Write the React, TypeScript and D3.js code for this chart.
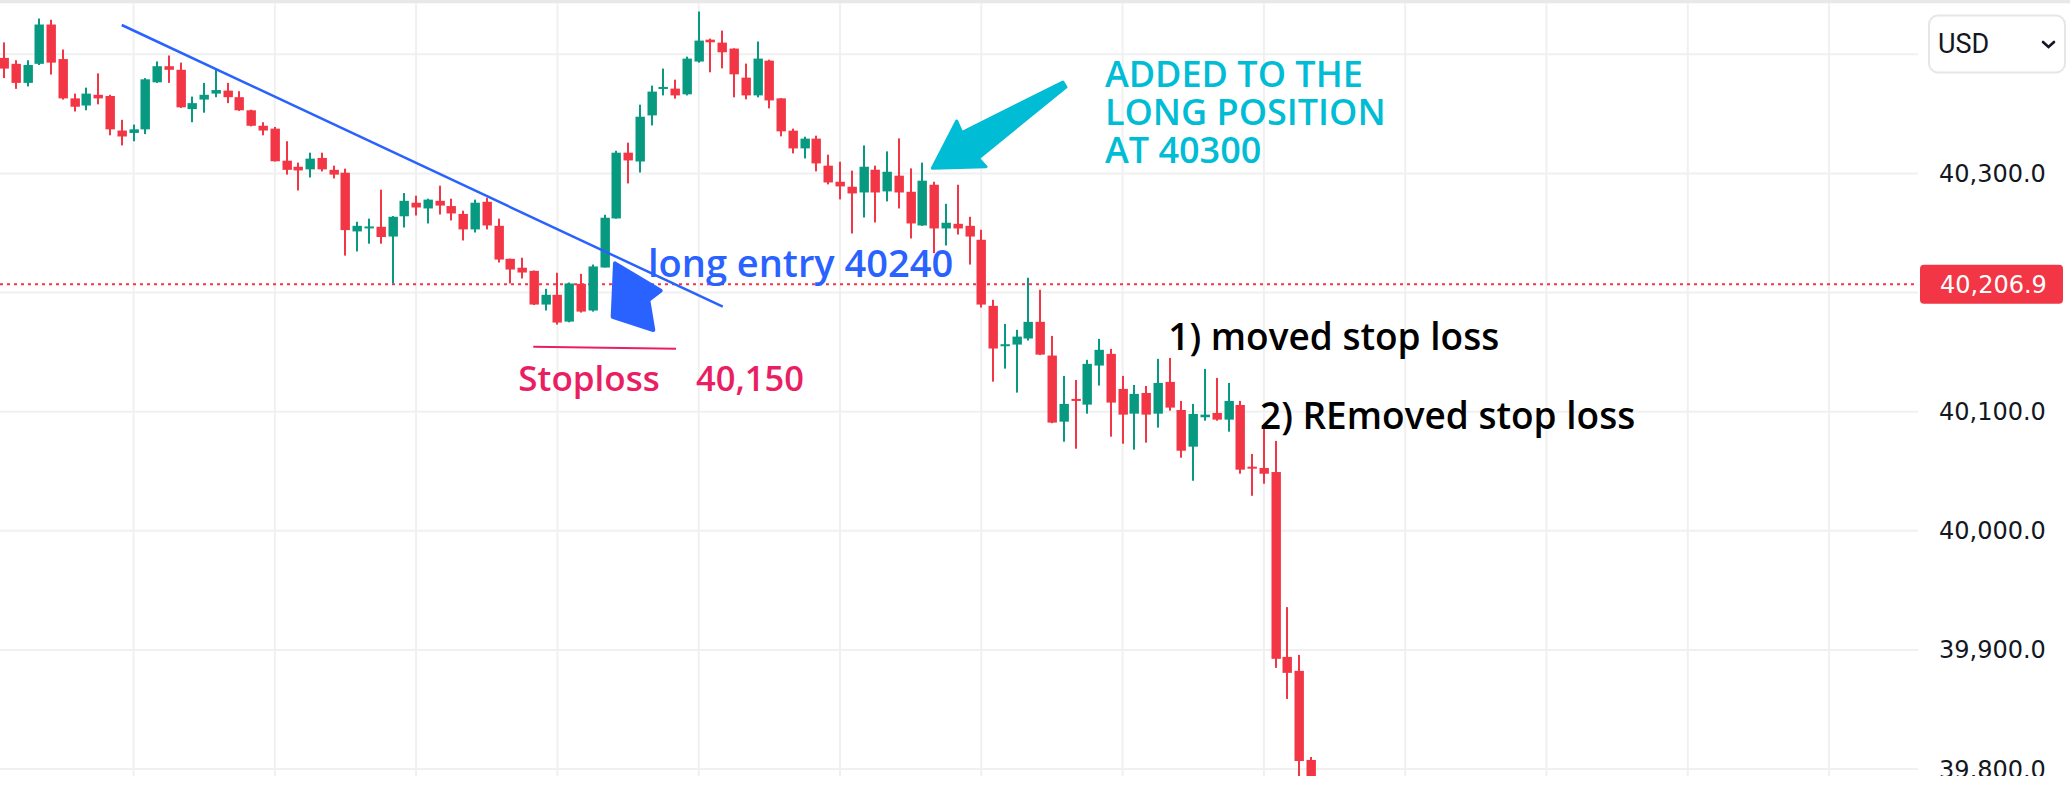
import React from 'react';
import * as d3 from 'd3';

// ---- candle data (5-minute bars) ----
const opens = [
  40397, 40392, 40376, 40392, 40425, 40396, 40363, 40357, 40366, 40365,
  40336, 40334, 40337, 40376.5, 40390, 40387, 40354, 40362, 40367, 40369.5,
  40364, 40353, 40340, 40337.6, 40310.7, 40305.6, 40303.4, 40313, 40303, 40300.6,
  40251.3, 40254.6, 40255.2, 40247, 40264, 40275.4, 40270.6, 40277, 40272.6, 40266,
  40253, 40276.2, 40256, 40228.3, 40220.8, 40218.2, 40189.9, 40198.1, 40175.6, 40207.3,
  40184.9, 40221, 40262.2, 40317.4, 40310, 40348.7, 40370.9, 40371.2, 40366.4, 40393.9,
  40412.3, 40409.8, 40404.8, 40380.4, 40365.5, 40394.7, 40363, 40335.9, 40321, 40329.2,
  40306.5, 40293, 40288.8, 40284, 40303.1, 40284.9, 40298.1, 40284.6, 40256.3, 40290.5,
  40253.8, 40257.7, 40256, 40244.3, 40188.8, 40155.5, 40156.3, 40161.4, 40175.4, 40147.1,
  40091.6, 40110.7, 40105.9, 40138.7, 40148.5, 40119.1, 40098.3, 40115.7, 40098.3, 40125,
  40101.4, 40070.6, 40095.3, 40098.9, 40093.3, 40105.6, 40053.8, 40052.7, 40049.3, 39894.1,
  39882.4, 39807.6,
];
const highs = [
  40410, 40395, 40395, 40430, 40429, 40404, 40367, 40372, 40384, 40366,
  40345, 40341, 40380, 40394, 40399, 40393, 40364.5, 40376, 40387, 40376,
  40369, 40353.5, 40343, 40339, 40327, 40309, 40317.4, 40317.4, 40306.5, 40304,
  40259.4, 40262, 40286.3, 40264.2, 40283.5, 40281.3, 40278.8, 40289.7, 40278.8, 40268.7,
  40278, 40279.6, 40262, 40228.5, 40229.2, 40218.5, 40203.1, 40216.6, 40208.4, 40215.7,
  40223.5, 40265.3, 40319, 40325.8, 40357.7, 40373.7, 40388, 40378.7, 40398, 40435.9,
  40413.2, 40419.9, 40405, 40392.2, 40410.7, 40395.5, 40363.2, 40337.6, 40330.8, 40331.7,
  40315.7, 40309.8, 40302.3, 40323.5, 40306.5, 40318.5, 40329.4, 40304.2, 40309, 40293,
  40274.5, 40290.5, 40263.6, 40252.7, 40193.9, 40173.7, 40168.7, 40212.4, 40202.3, 40163.6,
  40130, 40126.6, 40143.5, 40161.1, 40152.7, 40130, 40122.4, 40121.6, 40144.3, 40145.1,
  40109, 40106.5, 40135.9, 40128.3, 40124.1, 40109, 40064.5, 40087.2, 40075.4, 39935.9,
  39895.8, 39810.1,
];
const lows = [
  40380, 40371, 40373, 40391, 40383, 40362, 40352, 40353, 40358, 40332,
  40323.5, 40327, 40333, 40376, 40376, 40355, 40343, 40351, 40364, 40359,
  40352.5, 40339.5, 40332, 40310, 40299, 40285.7, 40296.6, 40301.7, 40295.8, 40231,
  40234.5, 40241, 40241, 40207.6, 40254.6, 40264.7, 40258, 40265.5, 40260.5, 40243.7,
  40250.4, 40253, 40225.2, 40207.6, 40211.8, 40189.5, 40184.9, 40173.1, 40175, 40183.2,
  40184, 40221, 40262, 40291.6, 40300.8, 40340.3, 40365.5, 40362.8, 40365.5, 40393,
  40384.9, 40388.2, 40363.9, 40362.2, 40363.9, 40354.6, 40331.1, 40316.8, 40312.6, 40301.7,
  40290.8, 40278.2, 40249.6, 40263, 40258.8, 40276.5, 40270.6, 40245.4, 40256, 40233.1,
  40239.5, 40248.7, 40223.5, 40187.4, 40125.2, 40136.1, 40116, 40159.7, 40147.5, 40090.3,
  40074.8, 40068.9, 40098.3, 40121.9, 40079, 40073.1, 40068.1, 40074, 40086.6, 40100.8,
  40061.3, 40042, 40092.4, 40092.4, 40083.2, 40047.9, 40029.4, 40039.5, 39884.9, 39858.8,
  39790, 39775,
];
const closes = [
  40388, 40376, 40391, 40425, 40393, 40363, 40356, 40367, 40363, 40337,
  40331, 40337, 40379, 40390, 40387, 40355.5, 40359, 40366, 40370, 40364,
  40353, 40340, 40336, 40310.2, 40303, 40302.5, 40312.4, 40303.4, 40299, 40252.4,
  40256, 40255.5, 40246.6, 40263.6, 40277, 40271.4, 40278, 40273, 40266.4, 40253,
  40275.4, 40256.3, 40227.7, 40219.3, 40216.8, 40189.9, 40198.1, 40174.8, 40207.6, 40184,
  40221.9, 40262.8, 40317.4, 40310.9, 40347.6, 40368.7, 40372.6, 40365.5, 40396.4, 40411.5,
  40410.1, 40401.7, 40383.2, 40365.5, 40396.4, 40361.3, 40335.3, 40321, 40329.2, 40308.4,
  40292.4, 40289.1, 40283.2, 40305.6, 40284, 40301.4, 40284, 40258, 40293.9, 40253.8,
  40258.6, 40253.8, 40247, 40189.9, 40153, 40156.6, 40163, 40175.4, 40147.9, 40090.8,
  40106.5, 40109, 40140.1, 40151.9, 40107.6, 40097.5, 40114.9, 40097.5, 40124.1, 40103.4,
  40067.2, 40098.1, 40097.5, 40093.3, 40109, 40051.3, 40052.7, 40047.9, 39892.5, 39880.7,
  39806.7, 39780,
];

// ---- axis values ----
const priceTicks = [40400, 40300, 40200, 40100, 40000, 39900, 39800];
const priceLabels = [40300, 40100, 40000, 39900, 39800];
const lastPrice = 40206.9;
const currency = 'USD';
const barsPerGridStep = 12;
const firstGridBar = 11;

// ---- annotations (bar index, price) ----
const trendLine = [
  { i: 10.0, p: 40424.6 },
  { i: 61.04, p: 40188.1 },
];
const stopLine = [
  { i: 44.95, p: 40154.5 },
  { i: 57.07, p: 40152.8 },
];
const blueArrowTip = { i: 51.89, p: 40224.5 };
const cyanArrowTip = { i: 78.84, p: 40304.3 };
const cyanLines = ['ADDED TO THE', 'LONG POSITION', 'AT 40300'];
const cyanTextAnchor = { i: 93.5, p: 40372.8 };
const notes = [
  { text: 'long entry 40240', i: 54.69, p: 40213.3, color: '#2962ff', size: 38 },
  { text: 'Stoploss', i: 43.68, p: 40117.7, color: '#e91e63', size: 35 },
  { text: '40,150', i: 58.77, p: 40117.7, color: '#e91e63', size: 34.5 },
  { text: '1) moved stop loss', i: 98.88, p: 40151.8, color: '#000000', size: 37 },
  { text: '2) REmoved stop loss', i: 106.67, p: 40085.5, color: '#000000', size: 37 },
];

const W = 2070;
const H = 785;
const PANE_R = 1918;
const PANE_T = 3.3;
const PANE_B = 776;
const UP = '#089981';
const DOWN = '#f23645';
const GRID = '#f0f0f0';

export default function App() {
  const x = d3.scaleLinear().domain([0, 111]).range([4, 1311]);
  const y = d3.scaleLinear().domain([39800, 40400]).range([769, 54.3]);

  const gridBars: number[] = [];
  for (let b = firstGridBar; x(b) < PANE_R; b += barsPerGridStep) gridBars.push(b);

  const line = d3
    .line<{ i: number; p: number }>()
    .x((d) => x(d.i))
    .y((d) => y(d.p));

  const blueTip = [x(blueArrowTip.i), y(blueArrowTip.p)];
  const blueShape = [
    [0, 0],
    [45.7, 27.4],
    [33.3, 36.7],
    [38.3, 66.7],
    [-2.3, 53.4],
  ]
    .map(([dx, dy]) => `${blueTip[0] + dx},${blueTip[1] + dy}`)
    .join(' ');

  const cyTip = [x(cyanArrowTip.i), y(cyanArrowTip.p)];
  const cyanShape = [
    [0, 0],
    [24.4, -47.3],
    [29.5, -35.6],
    [130.5, -86.3],
    [133.6, -81.2],
    [46, -10],
    [53.7, -1.6],
  ]
    .map(([dx, dy]) => `${cyTip[0] + dx},${cyTip[1] + dy}`)
    .join(' ');

  const annFont = "'Open Sans', sans-serif";
  const axisFont = "'DejaVu Sans', sans-serif";

  return (
    <div style={{ position: 'absolute', left: 0, top: 0, width: W, height: H, overflow: 'hidden', background: '#fff' }}>
      <svg width={W} height={H} viewBox={`0 0 ${W} ${H}`} style={{ display: 'block' }}>
        <defs>
          <clipPath id="pane">
            <rect x={0} y={PANE_T} width={PANE_R} height={PANE_B - PANE_T} />
          </clipPath>
          <clipPath id="axis">
            <rect x={PANE_R} y={PANE_T} width={W - PANE_R} height={PANE_B - PANE_T} />
          </clipPath>
        </defs>
        <rect x={0} y={0} width={W} height={H} fill="#ffffff" />

        <g clipPath="url(#pane)">
          {/* grid */}
          {priceTicks.map((p) => (
            <line key={'h' + p} x1={0} x2={PANE_R} y1={y(p)} y2={y(p)} stroke={GRID} strokeWidth={2} />
          ))}
          {gridBars.map((b) => (
            <line key={'v' + b} x1={x(b)} x2={x(b)} y1={PANE_T} y2={PANE_B} stroke={GRID} strokeWidth={2} />
          ))}

          {/* last price dotted line */}
          <line
            x1={0}
            x2={PANE_R}
            y1={y(lastPrice)}
            y2={y(lastPrice)}
            stroke={DOWN}
            strokeWidth={2}
            strokeDasharray="3 4"
          />

          {/* candles */}
          {opens.map((o, k) => {
            const c = closes[k];
            const up = c >= o;
            const col = up ? UP : DOWN;
            const cx = Math.round(x(k));
            const top = y(Math.max(o, c));
            const bot = y(Math.min(o, c));
            const h = Math.max(2, bot - top);
            return (
              <g key={k}>
                <rect x={cx - 1} y={y(highs[k])} width={2} height={y(lows[k]) - y(highs[k])} fill={col} />
                <rect x={cx - 4.5} y={top} width={9.4} height={h} fill={col} />
              </g>
            );
          })}

          {/* trend line */}
          <path d={line(trendLine) || ''} stroke="#2962ff" strokeWidth={2.5} fill="none" />
          {/* stop loss line */}
          <path d={line(stopLine) || ''} stroke="#e91e63" strokeWidth={2} fill="none" />

          {/* arrows */}
          <polygon points={blueShape} fill="#2962ff" stroke="#2962ff" strokeWidth={4} strokeLinejoin="round" />
          <polygon points={cyanShape} fill="#00bcd4" stroke="#00bcd4" strokeWidth={3} strokeLinejoin="round" />

          {/* texts */}
          {notes.map((n) => (
            <text
              key={n.text}
              x={x(n.i)}
              y={y(n.p)}
              fill={n.color}
              fontFamily={annFont}
              fontWeight={600}
              fontSize={n.size}
            >
              {n.text}
            </text>
          ))}
          <text
            x={x(cyanTextAnchor.i)}
            y={y(cyanTextAnchor.p)}
            fill="#00bcd4"
            fontFamily={annFont}
            fontWeight={600}
            fontSize={36}
          >
            {cyanLines.map((t, k) => (
              <tspan key={t} x={x(cyanTextAnchor.i)} dy={k === 0 ? 0 : 38.1}>
                {t}
              </tspan>
            ))}
          </text>
        </g>

        {/* price axis */}
        <g clipPath="url(#axis)">
          {priceLabels.map((p) => (
            <text
              key={'l' + p}
              x={1939}
              y={y(p) + 8.6}
              fill="#131722"
              fontFamily={axisFont}
              fontSize={24}
            >
              {d3.format(',.1f')(p)}
            </text>
          ))}
          <rect x={1920} y={y(lastPrice) - 19.5} width={143} height={39} rx={4} fill={DOWN} />
          <text x={1940} y={y(lastPrice) + 8.6} fill="#ffffff" fontFamily={axisFont} fontSize={24}>
            {d3.format(',.1f')(lastPrice)}
          </text>
        </g>

        {/* currency box */}
        <rect x={1929} y={15.5} width={136} height={57} rx={9} fill="#ffffff" stroke="#e6e6e6" strokeWidth={2} />
        <text x={1938} y={53.3} fill="#131722" fontFamily="Roboto, sans-serif" fontSize={27}>
          {currency}
        </text>
        <path d="M2043,42 L2048.5,47 L2054,42" stroke="#131722" strokeWidth={2.6} fill="none" strokeLinecap="round" />

        {/* top border band */}
        <rect x={0} y={0} width={W} height={PANE_T} fill="#e8e8e8" />
      </svg>
    </div>
  );
}
